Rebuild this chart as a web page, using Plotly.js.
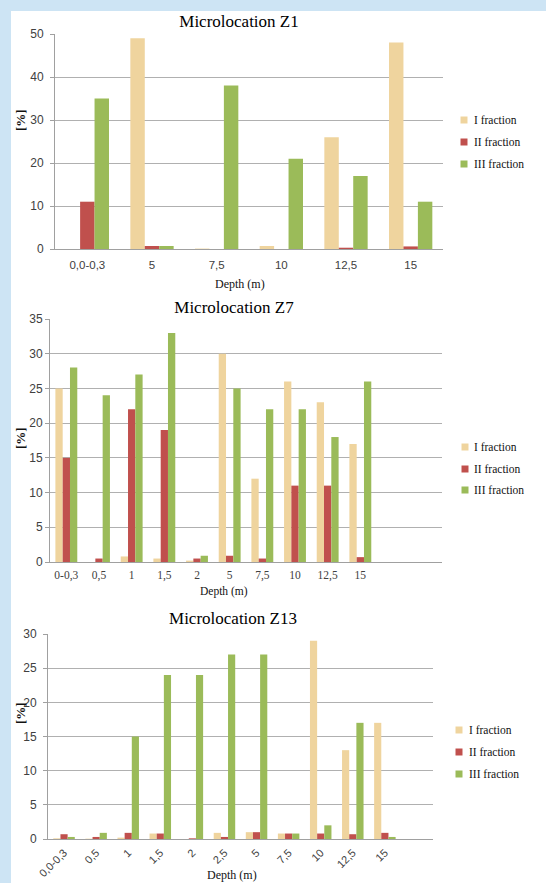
<!DOCTYPE html>
<html><head><meta charset="utf-8">
<script src="https://cdn.plot.ly/plotly-3.0.1.min.js"></script>
<style>
html,body{margin:0;padding:0;background:#cde4f4;width:546px;height:883px;overflow:hidden}
#wrap{position:absolute;left:11px;top:11px;width:535px;height:872px;background:#fff}
.p{position:absolute;left:11px;width:535px}
</style></head><body>
<div id="wrap"></div>
<div id="z1" class="p" style="top:11px;height:283px"></div>
<div id="z7" class="p" style="top:294px;height:304px"></div>
<div id="z13" class="p" style="top:598px;height:285px"></div>
<script>
// ---- data ----
const seriesNames = ['I fraction', 'II fraction', 'III fraction'];
const seriesColors = ['#efd49e', '#c0504d', '#9bbb59'];

const z1Depths = ['0,0-0,3', '5', '7,5', '10', '12,5', '15'];
const z1I   = [0, 49, 0.1, 0.7, 26, 48];
const z1II  = [11, 0.7, 0, 0, 0.3, 0.6];
const z1III = [35, 0.7, 38, 21, 17, 11];

const z7Depths = ['0-0,3', '0,5', '1', '1,5', '2', '5', '7,5', '10', '12,5', '15'];
const z7I   = [25, 0, 0.8, 0.5, 0.2, 30, 12, 26, 23, 17];
const z7II  = [15, 0.5, 22, 19, 0.5, 0.9, 0.5, 11, 11, 0.7];
const z7III = [28, 24, 27, 33, 0.9, 25, 22, 22, 18, 26];

const z13Depths = ['0,0-0,3', '0,5', '1', '1,5', '2', '2,5', '5', '7,5', '10', '12,5', '15'];
const z13I   = [0.1, 0.05, 0.2, 0.8, 0, 0.9, 1.0, 0.8, 29, 13, 17];
const z13II  = [0.7, 0.3, 0.9, 0.8, 0.1, 0.3, 1.0, 0.8, 0.8, 0.7, 0.9];
const z13III = [0.3, 0.9, 15, 24, 24, 27, 27, 0.8, 2, 17, 0.3];

const SERIF = 'Liberation Serif';
const SANS = 'Liberation Sans';

function draw(id, c) {
  const W = 535, H = c.h, m = c.m;
  const pw = W - m.l - m.r, ph = H - m.t - m.b;
  const px = x => (x - m.l) / pw;
  const py = y => (H - m.b - y) / ph;
  const traces = c.values.map((v, i) => ({
    type: 'bar', x: c.cats, y: v, name: seriesNames[i],
    marker: {color: seriesColors[i], line: {width: 0}},
    showlegend: false, hoverinfo: 'skip'
  }));
  const ann = [], shapes = [];
  ann.push({text: '[%]', textangle: -90, xref: 'paper', yref: 'paper',
    x: px(c.yT[0]), y: py(c.yT[1]), xanchor: 'center', yanchor: 'middle',
    showarrow: false, font: {family: SERIF, size: 13, color: '#111', weight: 'bold'}});
  ann.push({text: 'Depth (m)', xref: 'paper', yref: 'paper',
    x: px(c.xT[0]), y: py(c.xT[1]), xanchor: 'center', yanchor: 'middle',
    showarrow: false, font: {family: SERIF, size: c.dSize, color: '#111'}});
  seriesNames.forEach((n, i) => {
    const sy = c.leg.y[i];
    shapes.push({type: 'rect', xref: 'paper', yref: 'paper',
      x0: px(c.leg.sq - 3.5), x1: px(c.leg.sq + 3.5),
      y0: py(sy + 3.5), y1: py(sy - 3.5),
      fillcolor: seriesColors[i], line: {width: 0}});
    ann.push({text: n, xref: 'paper', yref: 'paper', x: px(c.leg.tx), y: py(sy),
      xanchor: 'left', yanchor: 'middle', showarrow: false,
      font: {family: SERIF, size: 11.5, color: '#111'}});
  });
  const layout = {
    width: W, height: H, margin: {l: m.l, r: m.r, t: m.t, b: m.b, pad: 0},
    paper_bgcolor: 'rgba(0,0,0,0)', plot_bgcolor: 'rgba(0,0,0,0)',
    showlegend: false, barmode: 'group', bargap: 0.33, bargroupgap: 0,
    title: {text: c.title, xref: 'paper', x: px(c.tP[0]), xanchor: 'center',
      yref: 'container', y: 1 - c.tP[1] / H, yanchor: 'middle',
      font: {family: SERIF, size: 17, color: '#000'}},
    xaxis: {type: 'category', range: [-0.5, c.slots - 0.5], showgrid: false,
      zeroline: false, showline: true, linecolor: '#a0a0a0', linewidth: 1,
      ticks: '', tickangle: c.angle, ticklabelstandoff: c.xStand,
      tickfont: {family: c.xFont, size: c.xSize, color: '#404040'}},
    yaxis: {range: [0, c.ymax], dtick: c.dtick, showgrid: true, gridcolor: '#b0b0b0',
      gridwidth: 1, zeroline: false, showline: true, linecolor: '#a0a0a0',
      ticks: 'outside', ticklen: 4, tickcolor: '#a0a0a0', ticklabelstandoff: c.yStand,
      tickfont: {family: SANS, size: 12, color: '#404040'}},
    annotations: ann, shapes: shapes
  };
  Plotly.newPlot(id, traces, layout, {staticPlot: true, displayModeBar: false});
}

draw('z1', {h: 283, m: {l: 44, r: 103, t: 23, b: 45}, title: 'Microlocation Z1',
  cats: z1Depths, values: [z1I, z1II, z1III], slots: 6, ymax: 50, dtick: 10,
  tP: [228, 10], yT: [9, 109], xT: [229, 273], dSize: 12,
  leg: {sq: 453, tx: 461, y: [109, 131, 153]},
  angle: 0, xStand: 5, yStand: 4, xFont: SANS, xSize: 11.5});

draw('z7', {h: 304, m: {l: 39, r: 104, t: 25, b: 36}, title: 'Microlocation Z7',
  cats: z7Depths, values: [z7I, z7II, z7III], slots: 12, ymax: 35, dtick: 5,
  tP: [223, 13], yT: [9, 144], xT: [213, 297], dSize: 11.5,
  leg: {sq: 454, tx: 461, y: [153, 175, 196]},
  angle: 0, xStand: 2, yStand: 0, xFont: SERIF, xSize: 11.5});

draw('z13', {h: 285, m: {l: 37, r: 113, t: 36, b: 44}, title: 'Microlocation Z13',
  cats: z13Depths, values: [z13I, z13II, z13III], slots: 12, ymax: 30, dtick: 5,
  tP: [222, 20], yT: [9, 115], xT: [221, 277], dSize: 12,
  leg: {sq: 448, tx: 456, y: [132, 154, 176]},
  angle: -45, xStand: 2, yStand: 4, xFont: SANS, xSize: 11});
</script>
</body></html>
